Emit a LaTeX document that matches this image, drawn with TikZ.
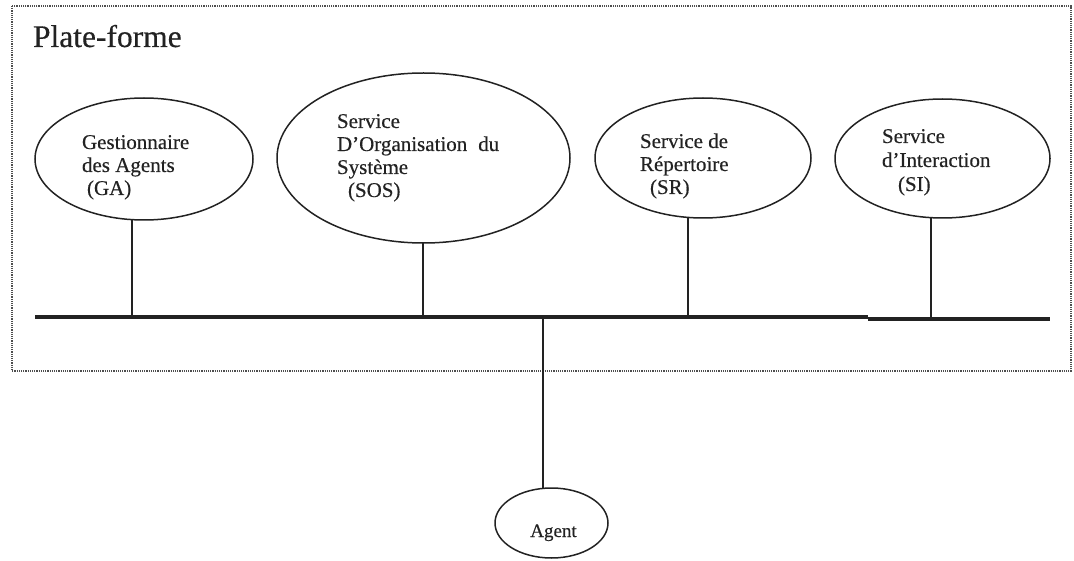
\documentclass[tikz,border=0pt]{standalone}
\usepackage{fontspec}
\setmainfont{Liberation Serif}[FakeBold=0.4]
\usetikzlibrary{shapes.geometric}
\definecolor{ink}{HTML}{222222}
\tikzset{
  svc/.style={ellipse, draw=ink, line width=1.5pt, inner sep=0pt, outer sep=0pt},
  lbl/.style={inner sep=0pt, outer sep=0pt, anchor=base west, text=ink},
  vline/.style={draw=ink, line width=1.3pt},
  busline/.style={draw=ink, line width=4pt},
  frame/.style={draw=ink!80, line width=1.2pt, densely dotted}
}
\newcommand{\svcfont}{\fontsize{21}{23}\selectfont}
\begin{document}
\begin{tikzpicture}[x=1pt,y=-1pt]
\useasboundingbox (0,0) rectangle (1074,561);
% platform frame
\draw[frame] (12,6) rectangle (1071,371);
\node[lbl, font=\fontsize{31.5}{34}\selectfont] (title) at (33,47) {Plate-forme};
% services
\node[svc, minimum width=218pt, minimum height=122pt] (ga) at (144,159) {};
\node[svc, minimum width=293pt, minimum height=170pt] (sos) at (423.5,158) {};
\node[svc, minimum width=216pt, minimum height=120pt] (sr) at (703,158) {};
\node[svc, minimum width=215pt, minimum height=119pt] (si) at (942.5,158.5) {};
\node[svc, minimum width=113pt, minimum height=70pt] (agent) at (551.5,523) {};
% labels
\node[lbl, font=\svcfont] (gat) at (82,149) {\begin{tabular}[t]{@{}l@{}}Gestionnaire\\des Agents\\\hspace{5pt}(GA)\end{tabular}};
\node[lbl, font=\svcfont] (sost) at (337,128) {\begin{tabular}[t]{@{}l@{}}Service\\D’Organisation\hspace{11pt}du\\Système\\\hspace{11pt}(SOS)\end{tabular}};
\node[lbl, font=\svcfont] (srt) at (640,148) {\begin{tabular}[t]{@{}l@{}}Service de\\Répertoire\\\hspace{10pt}(SR)\end{tabular}};
\node[lbl, font=\fontsize{21}{24}\selectfont] (sit) at (882,143) {\begin{tabular}[t]{@{}l@{}}Service\\d’Interaction\\\hspace{16pt}(SI)\end{tabular}};
\node[inner sep=0pt, anchor=base, text=ink, font=\fontsize{19}{21}\selectfont] (agentt) at (553.5,537) {Agent};
% bus
\coordinate (busL) at (35,317.5);
\coordinate (busM) at (868,317.5);
\coordinate (busM2) at (868,319);
\coordinate (busR) at (1050,319);
% connectors
\draw[vline] ([xshift=-12pt]ga.south) -- ([xshift=-12pt]ga.south |- busL);
\draw[vline] ([xshift=-0.5pt]sos.south) -- ([xshift=-0.5pt]sos.south |- busL);
\draw[vline] ([xshift=-15pt]sr.south) -- ([xshift=-15pt]sr.south |- busL);
\draw[vline] ([xshift=-11.5pt]si.south) -- ([xshift=-11.5pt]si.south |- busR);
\draw[vline] ([xshift=-8.5pt]agent.north) -- ([xshift=-8.5pt]agent.north |- busL);
\draw[busline] (busL) -- (busM);
\draw[busline] (busM2) -- (busR);
\end{tikzpicture}
\end{document}
